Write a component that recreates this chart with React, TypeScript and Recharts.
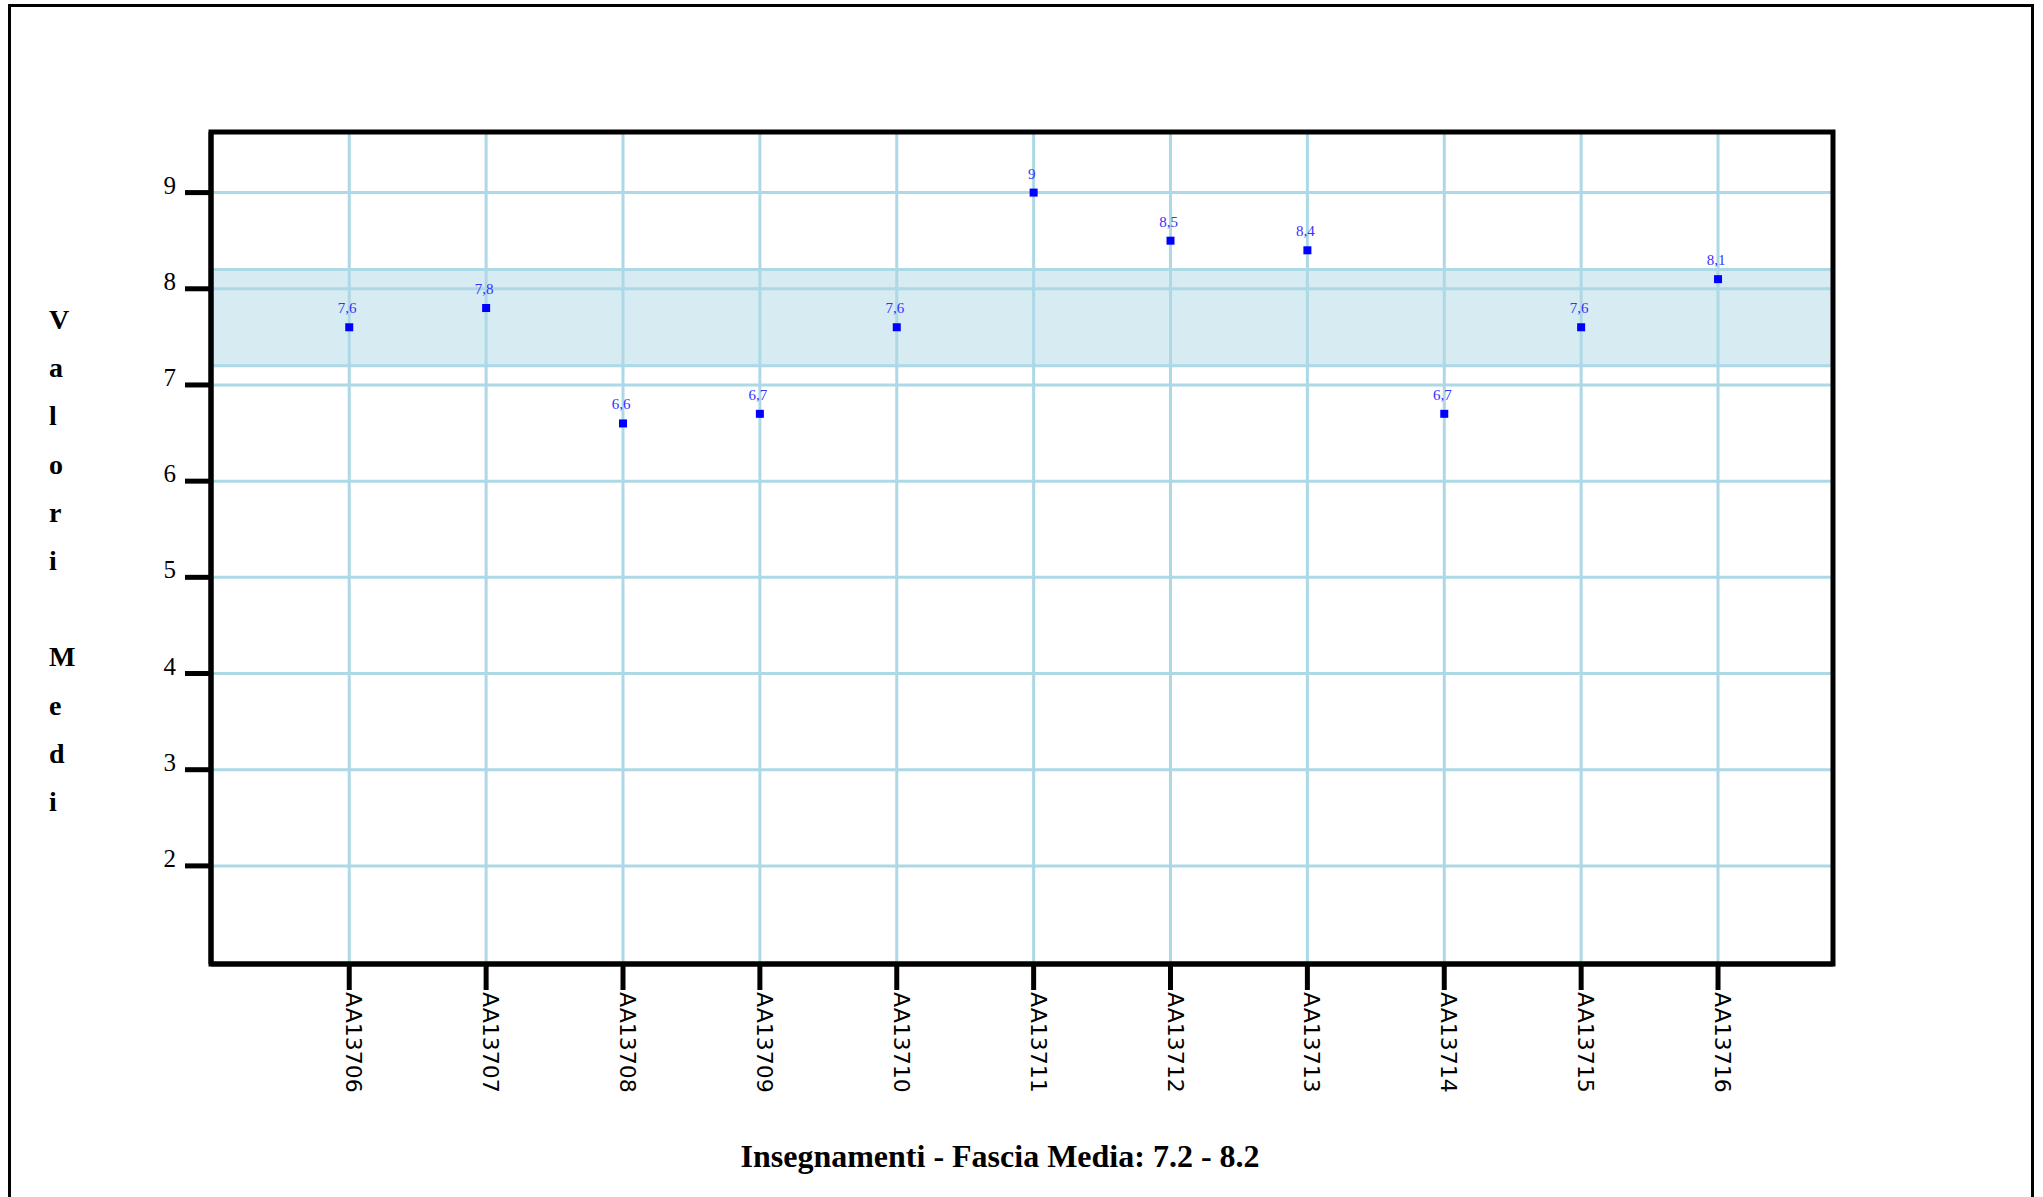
import React from "react";
import { LineChart, Line, XAxis, YAxis, CartesianGrid, ReferenceArea } from "recharts";

const codes = [
  "AA13706", "AA13707", "AA13708", "AA13709", "AA13710", "AA13711",
  "AA13712", "AA13713", "AA13714", "AA13715", "AA13716",
];
const means = [7.6, 7.8, 6.6, 6.7, 7.6, 9, 8.5, 8.4, 6.7, 7.6, 8.1];
const yTicks = [2, 3, 4, 5, 6, 7, 8, 9];
const bandLow = 7.2;
const bandHigh = 8.2;
const yTitle = "Valori Medi";
const xTitle = "Insegnamenti - Fascia Media: 7.2 - 8.2";

const xTicks = codes.map((_, i) => i);
const xDomain: [number, number] = [-1.01, 10.84];
const yDomain: [number, number] = [0.98, 9.63];

const data = codes.map((code, i) => ({ idx: i, code, mean: means[i] }));

const GRID = "#add8e6";
const SERIF = "'Liberation Serif', 'Times New Roman', serif";

function XTick(props: any) {
  const { x, y, payload } = props;
  return (
    <text
      transform={`translate(${x - 3},${y}) rotate(90)`}
      textAnchor="start"
      fontSize={22}
      fontFamily="'DejaVu Sans', sans-serif"
      fill="#000"
    >
      {codes[payload.value]}
    </text>
  );
}

function YTick(props: any) {
  const { x, y, payload } = props;
  return (
    <text x={x - 7} y={y + 1} textAnchor="end" fontSize={25} fontFamily={SERIF} fill="#000">
      {payload.value}
    </text>
  );
}

function Square(props: any) {
  const { cx, cy, index } = props;
  if (cx == null || cy == null) return null;
  return <rect key={index} x={cx - 4} y={cy - 4} width={8} height={8} fill="#0000ff" />;
}

function PointLabel(props: any) {
  const { x, y, value } = props;
  return (
    <text x={x - 2} y={y - 14} textAnchor="middle" fontSize={15} fontFamily={SERIF} fill="#3333ff">
      {String(value).replace(".", ",")}
    </text>
  );
}

function YTitle() {
  return (
    <g>
      {yTitle.split("").map((ch, i) =>
        ch === " " ? null : (
          <text
            key={i}
            x={49}
            y={329 + i * 48.2}
            fontSize={28}
            fontWeight="bold"
            fontFamily={SERIF}
            fill="#000"
          >
            {ch}
          </text>
        )
      )}
    </g>
  );
}

function XTitle() {
  return (
    <text x={1000} y={1167} textAnchor="middle" fontSize={32} fontWeight="bold" fontFamily={SERIF} fill="#000">
      {xTitle}
    </text>
  );
}

export default function App() {
  return (
    <div style={{ position: "absolute", left: 0, top: 0, width: 2043, height: 1197, overflow: "hidden", background: "#fff" }}>
      <div
        style={{
          position: "absolute",
          left: 8,
          top: 4,
          width: 2026,
          height: 1300,
          border: "3px solid #000",
          boxSizing: "border-box",
        }}
      />
      <div style={{ position: "absolute", left: 0, top: 0 }}>
        <LineChart width={2043} height={1197} data={data} margin={{ top: 132, right: 210, bottom: 133, left: 151 }}>
          <CartesianGrid stroke={GRID} strokeWidth={3} />
          <ReferenceArea
            y1={bandLow}
            y2={bandHigh}
            fill={GRID}
            fillOpacity={0.5}
            stroke={GRID}
            strokeWidth={3}
          />
          <XAxis
            type="number"
            dataKey="idx"
            domain={xDomain}
            ticks={xTicks}
            allowDataOverflow
            height={100}
            interval={0}
            tickSize={26}
            axisLine={{ stroke: "#000", strokeWidth: 5 }}
            tickLine={{ stroke: "#000", strokeWidth: 5 }}
            tick={<XTick />}
            label={{ content: () => <XTitle /> }}
          />
          <YAxis
            width={60}
            domain={yDomain}
            ticks={yTicks}
            allowDataOverflow
            tickSize={26}
            axisLine={{ stroke: "#000", strokeWidth: 5 }}
            tickLine={{ stroke: "#000", strokeWidth: 5 }}
            tick={<YTick />}
            label={{ content: () => <YTitle /> }}
          />
          <Line
            dataKey="mean"
            stroke="none"
            dot={<Square />}
            activeDot={false}
            label={<PointLabel />}
            isAnimationActive={false}
          />
          <ReferenceArea
            x1={xDomain[0]}
            x2={xDomain[1]}
            y1={yDomain[0]}
            y2={yDomain[1]}
            fill="none"
            stroke="#000"
            strokeWidth={5}
          />
        </LineChart>
      </div>
    </div>
  );
}
